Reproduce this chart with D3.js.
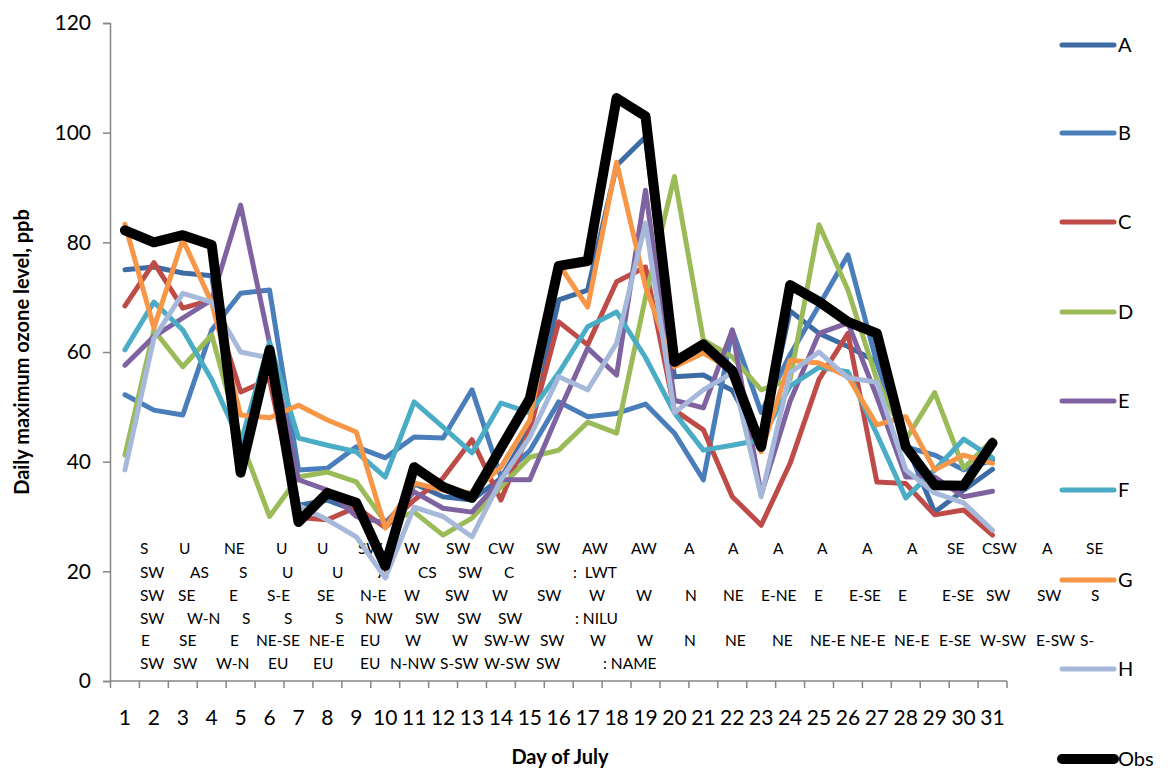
<!DOCTYPE html>
<html>
<head>
<meta charset="utf-8">
<script src="https://cdn.jsdelivr.net/npm/d3@7"></script>
<style>
  html, body { margin: 0; padding: 0; background: #fff; }
  svg { display: block; font-family: Lato, "Liberation Sans", sans-serif; }
</style>
</head>
<body>
<svg id="chart" width="1171" height="773"></svg>
<script>
// Day of July (category axis)
const days = [1,2,3,4,5,6,7,8,9,10,11,12,13,14,15,16,17,18,19,20,21,22,23,24,25,26,27,28,29,30,31];
const yTicks = [0,20,40,60,80,100,120];

// Daily maximum ozone (ppb) for each model run and the observations
const seriesNames = ["A","B","C","D","E","F","G","H","Obs"];
const valuesA = [75,75.5,74.4,73.9,40,58,32,33,31,22,36,33.6,33,37,46,69.5,71.3,94,99.2,55.5,55.8,53,43.4,67.5,63.4,61,58.2,43.4,30.8,34.8,38.6];
const valuesB = [52.2,49.4,48.5,64,70.7,71.3,38.5,38.8,42.7,40.7,44.5,44.3,53.1,37.2,42,50.9,48.2,48.8,50.5,45.2,36.7,64,49,59.5,68.5,77.7,58,42.7,41.2,38.5,40.3];
const valuesC = [68.4,76.3,68,69.5,52.7,55,29.8,29.4,31.7,28,33,37,44,33,45.8,65.5,61.3,72.8,75.5,49.4,45.8,33.6,28.4,39.7,55,63.4,36.3,36,30.3,31.2,26.6];
const valuesD = [41.2,64,57.3,63.1,44,30,37.2,38.1,36.3,29,30.8,26.6,29.7,35.4,40.8,42.1,47.2,45.2,70,92,62.2,59.1,53.1,55,83.2,71.3,55,44,52.6,38.8,44];
const valuesE = [57.6,62.8,66.2,69.5,86.8,61.6,36.7,34.8,30,28.8,34.5,31.5,30.8,36.7,36.7,49,60.7,55.8,89.5,51.2,49.8,64,34,51,63.4,65.3,51.8,37.2,37.2,33.6,34.6];
const valuesF = [60.4,69.1,64,55,43.4,61.8,44.3,43,41.8,37.2,50.9,46.3,41.6,50.7,48.9,56.2,64.6,67.3,59,48.9,42.1,43,44,53.8,57.2,56.4,45,33.4,38.5,44.1,40.7];
const valuesG = [83.3,64.4,80.5,69,48.5,48,50.3,47.6,45.4,27.9,36.1,34.8,34.3,39,47.6,76,68.2,94.6,71.9,57.3,59.8,56.7,41.8,58.5,58,55.5,46.7,48.2,38.5,41.2,39.7];
const valuesH = [38.5,62.5,70.7,69.1,60,58.9,32,29.4,26.3,18.8,31.7,30,26.3,36.7,44.5,55.5,53.1,61.6,83.5,48.9,53.1,56.2,33.6,56.2,60,55.3,54.5,38.5,34.3,32.5,27.5];
const valuesObs = [82.2,80,81.3,79.5,38,60.4,29,34.3,32.5,21,39,35.4,33.4,42.5,51.5,75.7,76.6,106.3,103,58.2,61.4,56.6,42.7,72.2,69.2,65.5,63.4,42.7,35.7,35.6,43.4];
const seriesValues = [valuesA,valuesB,valuesC,valuesD,valuesE,valuesF,valuesG,valuesH,valuesObs];

// Wind direction notes per day: LWT, NILU and NAME classifications
const noteRows = [
  [[140,"S"],[179,"U"],[224,"NE"],[276,"U"],[317,"U"],[358,"SW"],[404,"W"],[446,"SW"],[488,"CW"],[536,"SW"],[582,"AW"],[631,"AW"],[684,"A"],[728,"A"],[773,"A"],[817,"A"],[862,"A"],[907,"A"],[947,"SE"],[982,"CSW"],[1042,"A"],[1086,"SE"]],
  [[140,"SW"],[190,"AS"],[239,"S"],[282,"U"],[332,"U"],[378,"A"],[418,"CS"],[458,"SW"],[504,"C"],[573,":  LWT"]],
  [[140,"SW"],[178,"SE"],[229,"E"],[267,"S-E"],[317,"SE"],[360,"N-E"],[404,"W"],[445,"SW"],[492,"W"],[537,"SW"],[589,"W"],[636,"W"],[685,"N"],[723,"NE"],[761,"E-NE"],[814,"E"],[849,"E-SE"],[898,"E"],[942,"E-SE"],[986,"SW"],[1037,"SW"],[1091,"S"]],
  [[140,"SW"],[187,"W-N"],[242,"S"],[284,"S"],[335,"S"],[365,"NW"],[415,"SW"],[457,"SW"],[498,"SW"],[575,": NILU"]],
  [[141,"E"],[179,"SE"],[230,"E"],[256,"NE-SE"],[309,"NE-E"],[360,"EU"],[405,"W"],[452,"W"],[484,"SW-W"],[540,"SW"],[590,"W"],[637,"W"],[684,"N"],[725,"NE"],[772,"NE"],[810,"NE-E"],[850,"NE-E"],[894,"NE-E"],[939,"E-SE"],[980,"W-SW"],[1036,"E-SW"],[1080,"S-"]],
  [[140,"SW"],[173,"SW"],[216,"W-N"],[268,"EU"],[313,"EU"],[360,"EU"],[390,"N-NW"],[440,"S-SW"],[484,"W-SW"],[536,"SW"],[603,": NAME"]]
];

const colors = ["#3D6CA4","#4A7EBB","#BE4B48","#9BBB59","#7F63A1","#4BACC6","#F79646","#A7B9DA","#000000"];
const widths = [5,5,5,5,5,5,5,5,10];

const svg = d3.select("#chart");

const x = d3.scalePoint().domain(days).range([110.5, 1007]).padding(0.5);
const y = d3.scaleLinear().domain([0, 120]).range([681, 23]);

// wind notes (behind the lines)
const noteBase = [554, 578, 601, 624, 646, 669];
const notes = svg.append("g").attr("font-size", 15.5).attr("fill", "#000");
noteRows.forEach((row, i) => {
  row.forEach(([nx, t]) => {
    notes.append("text").attr("x", nx).attr("y", noteBase[i])
      .attr("xml:space", "preserve").style("white-space", "pre").text(t);
  });
});

// y axis
const yAxis = svg.append("g").attr("transform", "translate(110,0)")
  .call(d3.axisLeft(y).tickValues(yTicks).tickSize(7).tickPadding(12));
yAxis.select(".domain").attr("stroke", "#868686").attr("stroke-width", 1.5);
yAxis.selectAll(".tick line").attr("stroke", "#868686").attr("stroke-width", 1.5);
yAxis.selectAll(".tick text").attr("font-size", 21).attr("fill", "#000").attr("font-family", "Lato, sans-serif");

// x axis: line with ticks between categories
const step = x.step();
const xAxis = svg.append("g").attr("transform", "translate(0,681)");
xAxis.append("line").attr("x1", 110).attr("x2", 110.5 + step * days.length)
  .attr("stroke", "#868686").attr("stroke-width", 1.5);
xAxis.selectAll("line.tk").data(d3.range(days.length + 1)).join("line")
  .attr("class", "tk")
  .attr("x1", i => 110.5 + i * step).attr("x2", i => 110.5 + i * step)
  .attr("y1", 0).attr("y2", 7).attr("stroke", "#868686").attr("stroke-width", 1.5);
xAxis.selectAll("text").data(days).join("text")
  .attr("x", d => x(d)).attr("y", 44).attr("text-anchor", "middle")
  .attr("font-size", 21).text(d => d);

// axis titles
svg.append("text").attr("x", 560).attr("y", 764).attr("text-anchor", "middle")
  .attr("font-size", 20).attr("font-weight", "bold").text("Day of July");
svg.append("text").attr("transform", "translate(29,352) rotate(-90)").attr("text-anchor", "middle")
  .attr("font-size", 20).attr("font-weight", "bold").text("Daily maximum ozone level, ppb");

// series lines
const line = d3.line().x((v, i) => x(days[i])).y(v => y(v));
svg.append("g").selectAll("path").data(seriesValues).join("path")
  .attr("d", line)
  .attr("fill", "none")
  .attr("stroke", (d, i) => colors[i])
  .attr("stroke-width", (d, i) => widths[i])
  .attr("stroke-linejoin", "round")
  .attr("stroke-linecap", "round");

// legend
const legendY = [45, 133, 222, 312, 401, 490, 580, 669, 759];
const legend = svg.append("g");
seriesNames.forEach((name, i) => {
  legend.append("line").attr("x1", 1062).attr("x2", 1114)
    .attr("y1", legendY[i]).attr("y2", legendY[i])
    .attr("stroke", colors[i]).attr("stroke-width", widths[i]).attr("stroke-linecap", "round");
  legend.append("text").attr("x", 1118).attr("y", legendY[i] + 7)
    .attr("font-size", 20).text(name);
});
</script>
</body>
</html>
